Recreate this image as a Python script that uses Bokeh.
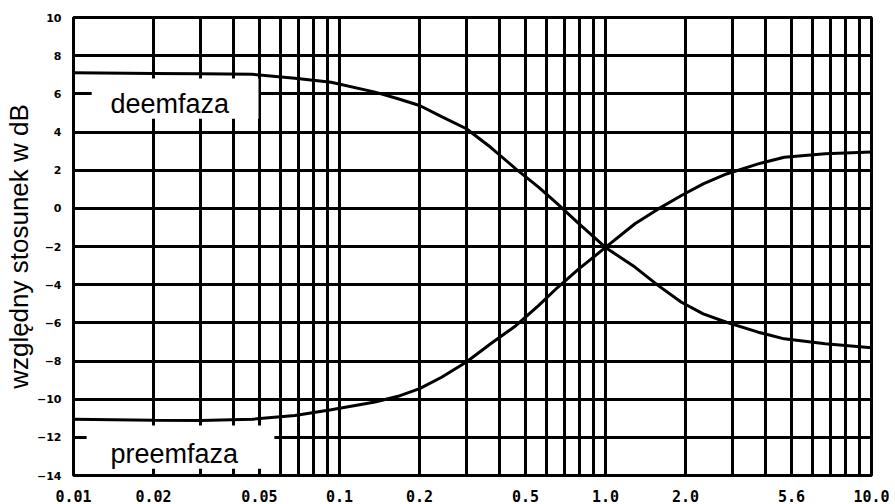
from bokeh.plotting import figure
from bokeh.models import FixedTicker, Label, BoxAnnotation
from bokeh.embed import file_html
from bokeh.resources import INLINE

# ---- data ----
freq = [0.01, 0.02, 0.03, 0.047, 0.068, 0.093, 0.136, 0.166, 0.2, 0.242, 0.3,
        0.37, 0.46, 0.56, 0.66, 0.79, 1.0, 1.29, 1.58, 1.93, 2.33, 2.85, 3.75,
        4.7, 6.7, 10.0]
deemfaza = [7.1, 7.07, 7.05, 7.02, 6.82, 6.61, 6.09, 5.74, 5.39, 4.81, 4.17,
            3.2, 2.07, 1.11, 0.23, -0.78, -2.05, -3.08, -4.05, -4.92, -5.53,
            -5.97, -6.49, -6.84, -7.1, -7.3]
preemfaza = [-11.05, -11.1, -11.12, -11.05, -10.86, -10.55, -10.15, -9.85, -9.45,
             -8.85, -8.05, -7.1, -6.15, -5.1, -4.15, -3.2, -2.05, -0.81, -0.03,
             0.67, 1.28, 1.8, 2.33, 2.68, 2.86, 2.95]

x_grid_values = [0.01, 0.02, 0.03, 0.04, 0.05, 0.06, 0.07, 0.08, 0.09,
                 0.1, 0.2, 0.3, 0.4, 0.5, 0.6, 0.7, 0.8, 0.9,
                 1.0, 2.0, 3.0, 4.0, 5.0, 6.0, 7.0, 8.0, 9.0, 10.0]
x_tick_values = [0.01, 0.02, 0.05, 0.1, 0.2, 0.5, 1.0, 2.0, 5.0, 10.0]
x_tick_labels = ["0.01", "0.02", "0.05", "0.1", "0.2", "0.5", "1.0", "2.0", "5.6", "10.0"]
y_tick_values = [-14, -12, -10, -8, -6, -4, -2, 0, 2, 4, 6, 8, 10]

y_title = "względny stosunek w dB"
label_deem = "deemfaza"
label_pre = "preemfaza"

# ---- figure ----
p = figure(width=895, height=504, x_axis_type="log",
           x_range=(0.01, 10.0), y_range=(-14, 10),
           output_backend="svg", toolbar_location=None,
           min_border_left=72, min_border_right=24,
           min_border_top=17, min_border_bottom=29)
p.background_fill_color = "white"
p.border_fill_color = "white"
p.outline_line_color = "black"
p.outline_line_width = 3

# grid
p.xgrid.ticker = FixedTicker(ticks=x_grid_values)
p.ygrid.ticker = FixedTicker(ticks=y_tick_values)
for g in (p.xgrid, p.ygrid):
    g.grid_line_color = "black"
    g.grid_line_width = 3
    g.grid_line_alpha = 1.0

# x axis
xa = p.xaxis[0]
xa.ticker = FixedTicker(ticks=x_tick_values)
xa.major_label_overrides = {v: s for v, s in zip(x_tick_values, x_tick_labels)}
xa.major_label_text_font = "DejaVu Sans Mono"
xa.major_label_text_font_style = "bold"
xa.major_label_text_font_size = "15px"
xa.major_label_text_color = "black"
xa.major_label_standoff = 8
xa.axis_line_color = None
xa.major_tick_line_color = None
xa.minor_tick_line_color = None

# y axis
ya = p.yaxis[0]
ya.ticker = FixedTicker(ticks=y_tick_values)
ya.major_label_text_font = "DejaVu Sans"
ya.major_label_text_font_style = "bold"
ya.major_label_text_font_size = "11px"
ya.major_label_text_color = "black"
ya.major_label_standoff = 6
ya.axis_line_color = None
ya.major_tick_line_color = None
ya.minor_tick_line_color = None
ya.axis_label = y_title
ya.axis_label_text_font = "Liberation Sans"
ya.axis_label_text_font_style = "normal"
ya.axis_label_text_font_size = "26px"
ya.axis_label_text_color = "black"
ya.axis_label_standoff = 0

# white boxes behind the curve names
p.add_layout(BoxAnnotation(left=0.0117, right=0.0496, top=6.8, bottom=4.7,
                           fill_color="white", fill_alpha=1.0, line_color=None))
p.add_layout(BoxAnnotation(left=0.0112, right=0.0569, top=-11.38, bottom=-13.64,
                           fill_color="white", fill_alpha=1.0, line_color=None))

# curves
p.line(freq, deemfaza, line_color="black", line_width=3)
p.line(freq, preemfaza, line_color="black", line_width=3)

# curve names
p.add_layout(Label(x=0.01377, y=5.49, text=label_deem, text_font="Liberation Sans",
                   text_font_size="27px", text_color="black",
                   text_baseline="alphabetic", text_align="left"))
p.add_layout(Label(x=0.01377, y=-12.85, text=label_pre, text_font="Liberation Sans",
                   text_font_size="27px", text_color="black",
                   text_baseline="alphabetic", text_align="left"))

open("out.html", "w").write(file_html(p, INLINE))
